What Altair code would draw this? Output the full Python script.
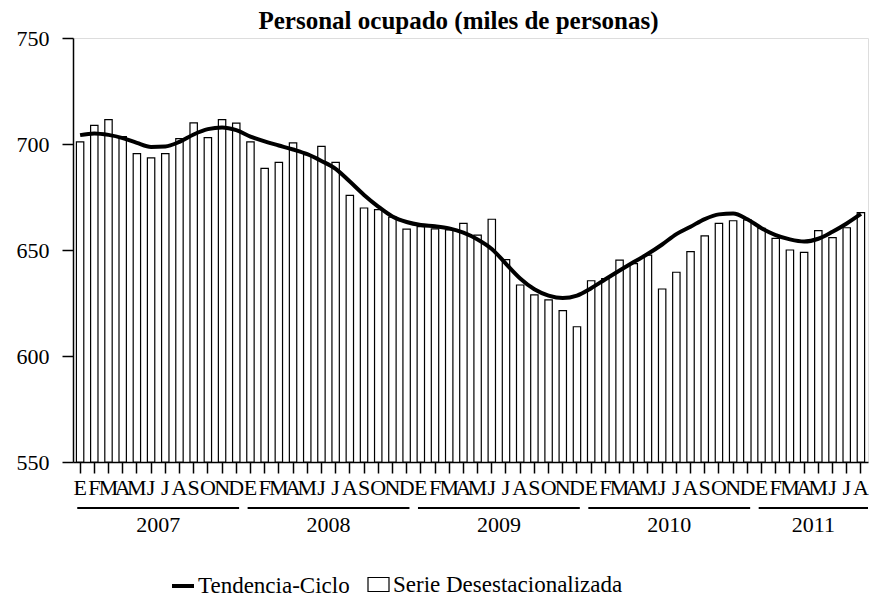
import altair as alt
import pandas as pd

# ---------------- data ----------------
years = [2007, 2008, 2009, 2010, 2011]
month_letters = ["E", "F", "M", "A", "M", "J", "J", "A", "S", "O", "N", "D"]

serie_2007 = [701.0, 708.8, 711.5, 703.5, 695.5, 693.5, 695.5, 702.5, 710.0, 703.0, 711.5, 709.8]
serie_2008 = [701.0, 688.5, 691.3, 700.5, 695.0, 698.9, 691.3, 675.8, 669.8, 669.0, 665.5, 659.8]
serie_2009 = [661.0, 660.0, 659.5, 662.6, 657.0, 664.5, 645.5, 633.5, 628.8, 626.5, 621.4, 613.8]
serie_2010 = [635.5, 636.5, 645.2, 643.6, 647.6, 631.6, 639.5, 649.2, 656.7, 662.6, 663.8, 664.2]
serie_2011 = [660.2, 655.5, 650.0, 648.9, 659.1, 655.8, 660.5, 667.6]

tend_2007 = [704.2, 705.0, 704.3, 702.8, 700.5, 698.6, 698.8, 701.0, 704.5, 707.0, 707.8, 706.5]
tend_2008 = [703.5, 701.2, 699.3, 697.4, 695.2, 692.0, 688.3, 682.3, 676.0, 670.5, 665.8, 663.2]
tend_2009 = [661.8, 661.2, 660.2, 658.2, 655.0, 650.5, 643.5, 636.6, 631.5, 628.5, 627.3, 628.5]
tend_2010 = [632.0, 636.2, 640.3, 644.3, 648.2, 652.6, 657.5, 661.0, 664.6, 666.8, 667.2, 664.5]
tend_2011 = [660.3, 657.0, 655.0, 654.0, 655.3, 658.6, 662.5, 667.0]

serie = serie_2007 + serie_2008 + serie_2009 + serie_2010 + serie_2011
tendencia = tend_2007 + tend_2008 + tend_2009 + tend_2010 + tend_2011

y_ticks = [550, 600, 650, 700, 750]

LBL_SERIE = "Serie Desestacionalizada"
LBL_TEND = "Tendencia-Ciclo"
TITLE = "Personal ocupado (miles de personas)"

n = len(serie)
df = pd.DataFrame({
    "idx": list(range(n)),
    "serie": serie,
    "tend": tendencia,
    "s_bar": [LBL_SERIE] * n,
    "s_line": [LBL_TEND] * n,
})

yr_rows = []
for k, y in enumerate(years):
    start = 12 * k + 0.3
    end = min(12 * k + 11.7, n)
    yr_rows.append({"year": str(y), "start": start, "end": end, "mid": (start + end) / 2})
df_years = pd.DataFrame(yr_rows)

FONT = "Liberation Serif, Times New Roman, Times, serif"
W, H = 795, 424

letters_js = "[" + ",".join("'%s'" % m for m in month_letters) + "]"

x_band = alt.X(
    "idx:O",
    scale=alt.Scale(paddingInner=0.48, paddingOuter=0.24),
    axis=alt.Axis(
        title=None, labelAngle=0, labelExpr=letters_js + "[datum.value % 12]",
        labelOverlap=False, labelFont=FONT, labelFontSize=22, labelColor="black",
        labelPadding=4, tickSize=11, tickWidth=1.5, tickColor="black",
        domainColor="black", domainWidth=1.5,
    ),
)

y_enc = alt.Y(
    "serie:Q",
    scale=alt.Scale(domain=[550, 750], zero=False, nice=False),
    axis=alt.Axis(
        title=None, values=y_ticks, grid=False, labelFont=FONT, labelFontSize=22,
        labelColor="black", labelPadding=13, tickSize=11, tickWidth=1.5,
        tickColor="black", domainColor="black", domainWidth=1.5,
    ),
)

bars = alt.Chart(df).mark_bar(stroke="black", strokeWidth=1.2).encode(
    x=x_band,
    y=y_enc,
    y2=alt.Y2(datum=550),
    fill=alt.Fill(
        "s_bar:N",
        scale=alt.Scale(domain=[LBL_SERIE], range=["white"]),
        legend=alt.Legend(
            title=None, orient="none", legendX=294, legendY=535, padding=0,
            symbolType="M-1,-0.667L1,-0.667L1,0.667L-1,0.667Z", symbolSize=441,
            symbolStrokeColor="black", symbolStrokeWidth=1.2, symbolFillColor="white",
            labelFont=FONT, labelFontSize=23, labelColor="black", labelOffset=3,
            labelLimit=500,
        ),
    ),
)

line = alt.Chart(df).mark_line(strokeWidth=4, interpolate="monotone").encode(
    x=alt.X("idx:O"),
    y=alt.Y("tend:Q"),
    stroke=alt.Stroke(
        "s_line:N",
        scale=alt.Scale(domain=[LBL_TEND], range=["black"]),
        legend=alt.Legend(
            title=None, orient="none", legendX=97, legendY=535, padding=0,
            symbolType="stroke", symbolSize=484, symbolStrokeWidth=4,
            labelFont=FONT, labelFontSize=23, labelColor="black", labelOffset=2,
            labelLimit=500,
        ),
    ),
)

main = alt.layer(bars, line)

year_rules = alt.Chart(df_years).mark_rule(color="black", strokeWidth=2).encode(
    x=alt.X("start:Q", scale=alt.Scale(domain=[0, n], nice=False, zero=False), axis=None),
    x2="end:Q",
    y=alt.value(470),
)

year_text = alt.Chart(df_years).mark_text(
    font=FONT, fontSize=22, color="black", baseline="alphabetic", align="center"
).encode(
    x=alt.X("mid:Q", scale=alt.Scale(domain=[0, n], nice=False, zero=False), axis=None),
    y=alt.value(494),
    text="year:N",
)

chart = alt.layer(main, year_rules, year_text).resolve_scale(x="independent").properties(
    width=W,
    height=H,
    title=alt.TitleParams(
        TITLE, font=FONT, fontSize=25, fontWeight="bold", color="black",
        anchor="middle", offset=5, dx=-12, dy=12,
    ),
    autosize=alt.AutoSizeParams(type="none"),
    padding={"left": 65, "top": 30, "right": 1, "bottom": 137},
).configure_view(stroke="black", strokeWidth=1.5).configure(
    background="white", font=FONT
)

chart.save("out.html", embed_options={"renderer": "svg", "actions": False})
